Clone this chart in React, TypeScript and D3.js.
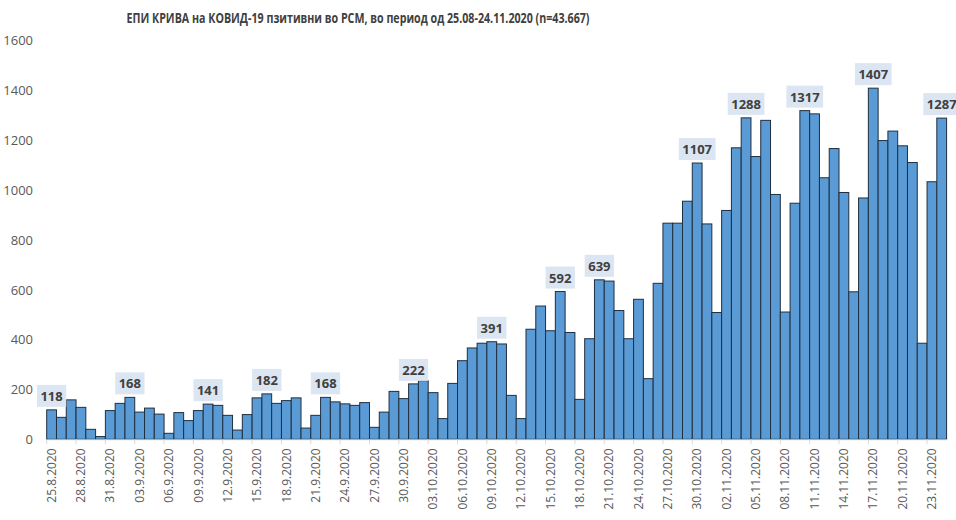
import { useEffect, useRef } from 'react';
import * as d3 from 'd3';

// Daily positive cases, 25.08.2020 - 24.11.2020
const values = [
  118, 88, 158, 128, 40, 11, 115, 144, 168, 109, 125, 101, 24, 107, 75, 115,
  141, 136, 96, 37, 99, 166, 182, 144, 155, 166, 45, 96, 168, 150, 142, 136,
  147, 48, 109, 192, 163, 222, 235, 187, 83, 224, 315, 366, 385, 391, 382, 176,
  83, 441, 534, 435, 592, 428, 160, 403, 639, 634, 516, 403, 561, 243, 625, 866,
  866, 954, 1107, 863, 508, 917, 1168, 1288, 1133, 1278, 981, 510, 946, 1317, 1304, 1048,
  1165, 989, 591, 967, 1407, 1197, 1235, 1176, 1109, 385, 1032, 1287,
];

const tickLabels = [
  '25.8.2020', '28.8.2020', '31.8.2020', '03.9.2020', '06.9.2020', '09.9.2020',
  '12.9.2020', '15.9.2020', '18.9.2020', '21.9.2020', '24.9.2020', '27.9.2020',
  '30.9.2020', '03.10.2020', '06.10.2020', '09.10.2020', '12.10.2020', '15.10.2020',
  '18.10.2020', '21.10.2020', '24.10.2020', '27.10.2020', '30.10.2020', '02.11.2020',
  '05.11.2020', '08.11.2020', '11.11.2020', '14.11.2020', '17.11.2020', '20.11.2020',
  '23.11.2020',
];

// bars that carry a value label
const labeledIdx = [0, 8, 16, 22, 28, 37, 45, 52, 56, 66, 71, 77, 84, 91];

const yTicks = [0, 200, 400, 600, 800, 1000, 1200, 1400, 1600];

const title = 'ЕПИ КРИВА на КОВИД-19 пзитивни во РСМ, во период од 25.08-24.11.2020 (n=43.667)';

const width = 956;
const height = 520;
const font = '"Open Sans", "Noto Sans", sans-serif';

const EpiCurve = () => {
  const svgRef = useRef<SVGSVGElement>(null);

  useEffect(() => {
    if (!svgRef.current) return;
    const root = d3.select(svgRef.current);
    root.selectAll('*').remove();

    const days = d3.timeDay.range(new Date(2020, 7, 25), new Date(2020, 10, 25));
    const data = days.map((d, i) => ({ date: d, value: values[i] }));

    const x = d3
      .scaleBand<Date>()
      .domain(days)
      .range([46.7, 946.6])
      .padding(0);

    const y = d3.scaleLinear().domain([0, 1600]).range([439.3, 40]);

    // title (narrow Calibri in the original, so squeeze to its width)
    root
      .append('text')
      .attr('x', 358)
      .attr('y', 17)
      .attr('text-anchor', 'middle')
      .attr('dominant-baseline', 'central')
      .attr('textLength', 463)
      .attr('lengthAdjust', 'spacingAndGlyphs')
      .style('font-family', font)
      .style('font-weight', 'bold')
      .style('font-size', '14px')
      .style('fill', '#404040')
      .text(title);

    // y axis labels
    root
      .append('g')
      .selectAll('text')
      .data(yTicks)
      .enter()
      .append('text')
      .attr('x', 33)
      .attr('y', (d) => y(d))
      .attr('text-anchor', 'end')
      .attr('dominant-baseline', 'central')
      .style('font-family', font)
      .style('font-size', '13px')
      .style('fill', '#595959')
      .text((d) => d);

    // bars
    root
      .append('g')
      .selectAll('rect')
      .data(data)
      .enter()
      .append('rect')
      .attr('x', (d) => x(d.date)!)
      .attr('y', (d) => y(d.value))
      .attr('width', x.bandwidth())
      .attr('height', (d) => y(0) - y(d.value))
      .attr('fill', '#5b9bd5')
      .attr('stroke', '#1f2f40')
      .attr('stroke-width', 1);

    // x axis
    const tickDays = days.filter((_, i) => i % 3 === 0);
    const xAxis = d3
      .axisBottom(x)
      .tickValues(tickDays)
      .tickSize(0)
      .tickPadding(0)
      .tickFormat((_, i) => tickLabels[i]);

    const gx = root.append('g').attr('transform', `translate(0, ${y(0)})`).call(xAxis);
    gx.select('.domain').attr('stroke', '#d9d9d9');
    gx.selectAll('.tick text')
      .attr('transform', 'translate(0, 9) rotate(-90)')
      .attr('x', 0)
      .attr('y', 0)
      .attr('dy', '0.35em')
      .attr('text-anchor', 'end')
      .style('font-family', font)
      .style('font-size', '12px')
      .style('fill', '#595959');

    // tick marks on category boundaries every 3 days
    gx.append('g')
      .selectAll('line')
      .data(tickDays)
      .enter()
      .append('line')
      .attr('x1', (d) => x(d)!)
      .attr('x2', (d) => x(d)!)
      .attr('y1', 0)
      .attr('y2', 5)
      .attr('stroke', '#d9d9d9');

    // value labels
    const lbl = root
      .append('g')
      .selectAll('g')
      .data(labeledIdx.map((i) => data[i]))
      .enter()
      .append('g')
      .attr('transform', (d) => `translate(${x(d.date)! + x.bandwidth() / 2}, ${y(d.value) - 14})`);

    const rects = lbl.append('rect').attr('fill', '#dce6f2');

    lbl
      .append('text')
      .attr('text-anchor', 'middle')
      .attr('dominant-baseline', 'central')
      .style('font-family', font)
      .style('font-weight', 'bold')
      .style('font-size', '13px')
      .style('fill', '#404040')
      .text((d) => d.value);

    lbl.each(function () {
      const g = d3.select(this);
      const w = (g.select('text').node() as SVGTextElement).getComputedTextLength();
      g.select('rect')
        .attr('x', -w / 2 - 3.5)
        .attr('y', -11)
        .attr('width', w + 7)
        .attr('height', 22);
    });
    rects.lower();
  }, []);

  return (
    <svg
      ref={svgRef}
      width={width}
      height={height}
      style={{ position: 'absolute', left: 0, top: 0, background: '#fff' }}
    />
  );
};

export default function App() {
  return <EpiCurve />;
}
